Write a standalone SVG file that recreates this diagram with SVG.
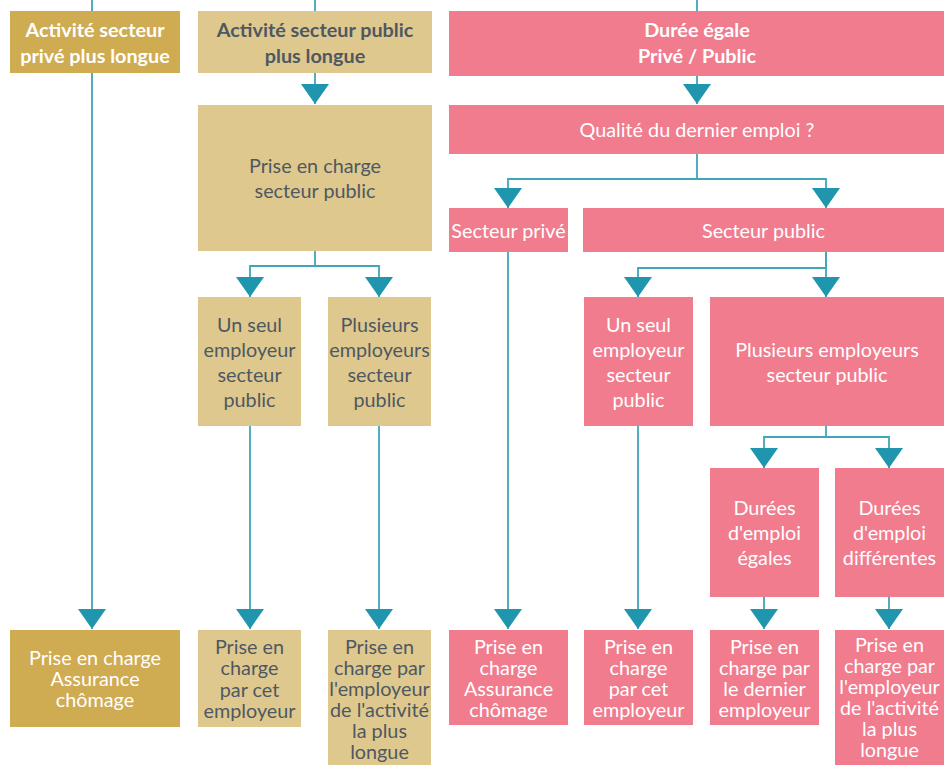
<svg xmlns="http://www.w3.org/2000/svg" width="952" height="765" viewBox="0 0 952 765">
<style>
.gd{fill:#CFAB52}
.gl{fill:#DFC88E}
.pk{fill:#F07C8E}
text{font-family:Lato,"Open Sans","Liberation Sans",sans-serif;font-size:19.8px;text-anchor:middle}
.w{fill:#FFFFFF}
.d{fill:#4E5862}
.b{font-weight:bold}
.ln{stroke:#3FA6BA;stroke-width:1.8;fill:none}
.ar{marker-end:url(#ah)}
</style>
<defs>
<marker id="ah" markerUnits="userSpaceOnUse" markerWidth="20" markerHeight="28" viewBox="0 0 20 28" refX="20" refY="14" orient="auto">
<path d="M0,0 L20,14 L0,28 z" fill="#2095AE"/>
</marker>
</defs>
<rect width="952" height="765" fill="#FFFFFF"/>
<g id="connectors">
<line class="ln" x1="92" y1="0" x2="92" y2="11"/>
<line class="ln" x1="315" y1="0" x2="315" y2="11"/>
<line class="ln" x1="697" y1="0" x2="697" y2="11"/>
<line class="ln ar" x1="92" y1="73" x2="92" y2="629"/>
<line class="ln ar" x1="315" y1="73" x2="315" y2="104"/>
<line class="ln ar" x1="697" y1="76" x2="697" y2="104"/>
<polyline class="ln" points="697,154 697,179"/>
<polyline class="ln ar" points="697,179 508,179 508,208"/>
<polyline class="ln ar" points="697,179 826,179 826,208"/>
<polyline class="ln" points="315,251 315,266"/>
<polyline class="ln ar" points="315,266 250,266 250,297"/>
<polyline class="ln ar" points="315,266 379,266 379,297"/>
<polyline class="ln ar" points="826,252 826,268 638,268 638,297"/>
<polyline class="ln ar" points="826,252 826,297"/>
<polyline class="ln" points="826,426 826,437"/>
<polyline class="ln ar" points="826,437 764,437 764,468"/>
<polyline class="ln ar" points="826,437 889,437 889,468"/>
<line class="ln ar" x1="250" y1="426" x2="250" y2="629"/>
<line class="ln ar" x1="379" y1="426" x2="379" y2="629"/>
<line class="ln ar" x1="508" y1="252" x2="508" y2="629"/>
<line class="ln ar" x1="638" y1="426" x2="638" y2="629"/>
<line class="ln ar" x1="764" y1="597" x2="764" y2="629"/>
<line class="ln ar" x1="889" y1="597" x2="889" y2="629"/>
</g>
<g id="n-prive-long">
<rect class="gd" x="10" y="11" width="170" height="62"/>
<text class="w b" x="95" y="37">Activité secteur</text>
<text class="w b" x="95" y="63">privé plus longue</text>
</g>
<g id="n-public-long">
<rect class="gl" x="198" y="11" width="234" height="62"/>
<text class="d b" x="315" y="37">Activité secteur public</text>
<text class="d b" x="315" y="63">plus longue</text>
</g>
<g id="n-egale">
<rect class="pk" x="449" y="11" width="495" height="65"/>
<text class="w b" x="697" y="37">Durée égale</text>
<text class="w b" x="697" y="63">Privé / Public</text>
</g>
<g id="n-pec-public">
<rect class="gl" x="198" y="105" width="234" height="146"/>
<text class="d" x="315" y="173">Prise en charge</text>
<text class="d" x="315" y="198">secteur public</text>
</g>
<g id="n-qualite">
<rect class="pk" x="449" y="105" width="495" height="49"/>
<text class="w" x="697" y="137">Qualité du dernier emploi ?</text>
</g>
<g id="n-sect-prive">
<rect class="pk" x="449" y="208" width="119" height="44"/>
<text class="w" x="508.5" y="238">Secteur privé</text>
</g>
<g id="n-sect-public">
<rect class="pk" x="583" y="208" width="361" height="44"/>
<text class="w" x="763.5" y="238">Secteur public</text>
</g>
<g id="n-g-seul">
<rect class="gl" x="198" y="297" width="103" height="129"/>
<text class="d" x="249.5" y="332">Un seul</text>
<text class="d" x="249.5" y="357">employeur</text>
<text class="d" x="249.5" y="382">secteur</text>
<text class="d" x="249.5" y="407">public</text>
</g>
<g id="n-g-plusieurs">
<rect class="gl" x="328" y="297" width="103" height="129"/>
<text class="d" x="379.5" y="332">Plusieurs</text>
<text class="d" x="379.5" y="357">employeurs</text>
<text class="d" x="379.5" y="382">secteur</text>
<text class="d" x="379.5" y="407">public</text>
</g>
<g id="n-p-seul">
<rect class="pk" x="584" y="297" width="109" height="129"/>
<text class="w" x="638.5" y="332">Un seul</text>
<text class="w" x="638.5" y="357">employeur</text>
<text class="w" x="638.5" y="382">secteur</text>
<text class="w" x="638.5" y="407">public</text>
</g>
<g id="n-p-plusieurs">
<rect class="pk" x="710" y="297" width="234" height="129"/>
<text class="w" x="827" y="357">Plusieurs employeurs</text>
<text class="w" x="827" y="382">secteur public</text>
</g>
<g id="n-egales">
<rect class="pk" x="710" y="468" width="109" height="129"/>
<text class="w" x="764.5" y="515">Durées</text>
<text class="w" x="764.5" y="540">d'emploi</text>
<text class="w" x="764.5" y="565">égales</text>
</g>
<g id="n-differentes">
<rect class="pk" x="835" y="468" width="109" height="129"/>
<text class="w" x="889.5" y="515">Durées</text>
<text class="w" x="889.5" y="540">d'emploi</text>
<text class="w" x="889.5" y="565">différentes</text>
</g>
<g id="n-r1">
<rect class="gd" x="10" y="630" width="170" height="97"/>
<text class="w" x="95" y="665">Prise en charge</text>
<text class="w" x="95" y="686">Assurance</text>
<text class="w" x="95" y="707">chômage</text>
</g>
<g id="n-r2">
<rect class="gl" x="198" y="630" width="103" height="97"/>
<text class="d" x="249.5" y="654">Prise en</text>
<text class="d" x="249.5" y="675">charge</text>
<text class="d" x="249.5" y="697">par cet</text>
<text class="d" x="249.5" y="718">employeur</text>
</g>
<g id="n-r3">
<rect class="gl" x="328" y="630" width="103" height="135"/>
<text class="d" x="379.5" y="654">Prise en</text>
<text class="d" x="379.5" y="675">charge par</text>
<text class="d" x="379.5" y="696">l'employeur</text>
<text class="d" x="379.5" y="717">de l'activité</text>
<text class="d" x="379.5" y="738">la plus</text>
<text class="d" x="379.5" y="759">longue</text>
</g>
<g id="n-r4">
<rect class="pk" x="449" y="630" width="119" height="95"/>
<text class="w" x="508.5" y="654">Prise en</text>
<text class="w" x="508.5" y="675">charge</text>
<text class="w" x="508.5" y="696">Assurance</text>
<text class="w" x="508.5" y="717">chômage</text>
</g>
<g id="n-r5">
<rect class="pk" x="584" y="630" width="109" height="95"/>
<text class="w" x="638.5" y="654">Prise en</text>
<text class="w" x="638.5" y="675">charge</text>
<text class="w" x="638.5" y="696">par cet</text>
<text class="w" x="638.5" y="717">employeur</text>
</g>
<g id="n-r6">
<rect class="pk" x="710" y="630" width="109" height="95"/>
<text class="w" x="764.5" y="654">Prise en</text>
<text class="w" x="764.5" y="675">charge par</text>
<text class="w" x="764.5" y="696">le dernier</text>
<text class="w" x="764.5" y="717">employeur</text>
</g>
<g id="n-r7">
<rect class="pk" x="835" y="630" width="109" height="135"/>
<text class="w" x="889.5" y="652">Prise en</text>
<text class="w" x="889.5" y="673">charge par</text>
<text class="w" x="889.5" y="694">l'employeur</text>
<text class="w" x="889.5" y="715">de l'activité</text>
<text class="w" x="889.5" y="736">la plus</text>
<text class="w" x="889.5" y="757">longue</text>
</g>
</svg>
